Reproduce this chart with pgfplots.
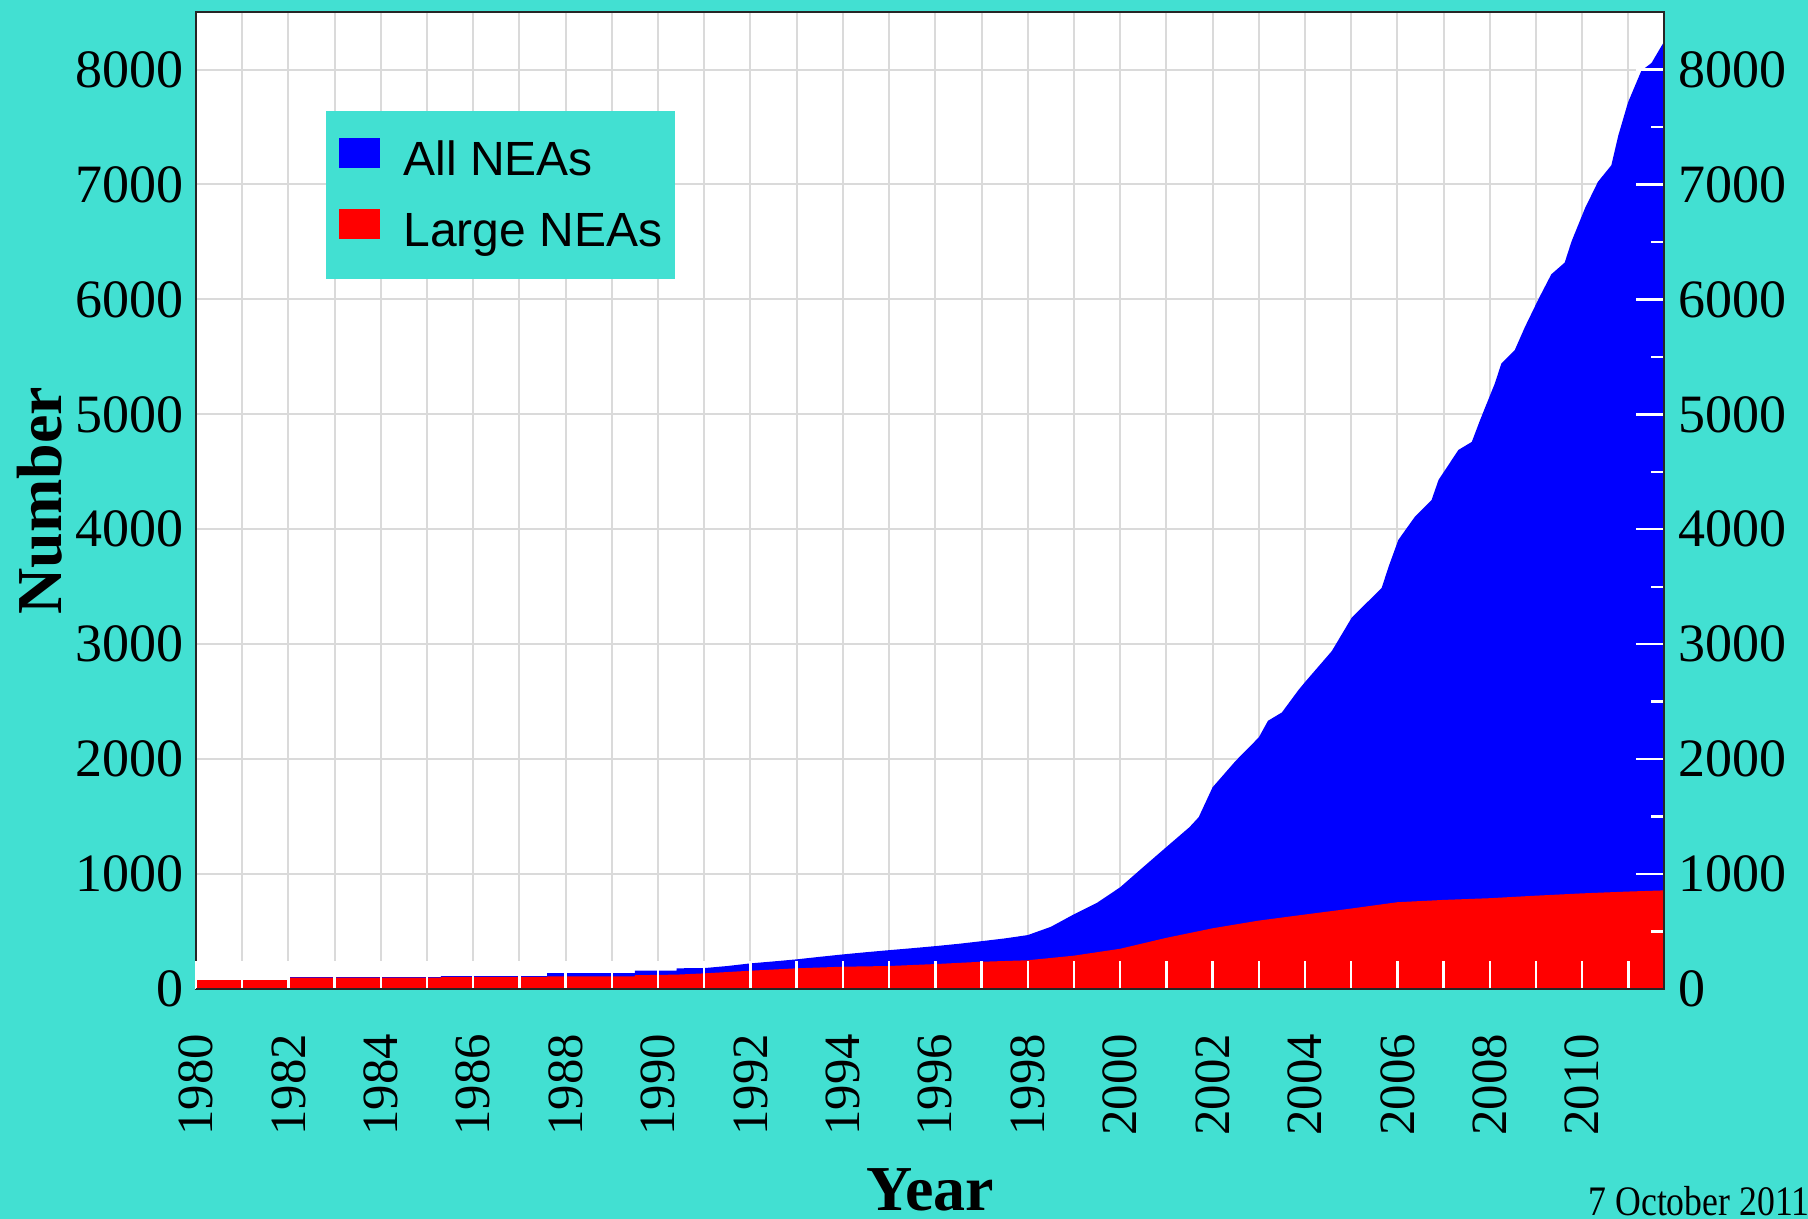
\documentclass[border=0pt]{standalone}
\usepackage{fontspec}
\setmainfont{Liberation Serif}
\newfontfamily\arialfont{Liberation Sans}
\usepackage{pgfplots}
\pgfplotsset{compat=1.18}
\definecolor{turq}{RGB}{66,224,210}
\definecolor{gridgray}{RGB}{218,218,218}

\begin{document}
\begin{tikzpicture}
\fill[turq] (-49pt,-57.5pt) rectangle (403pt,247.25pt);

% data, grid, labels and legend
\begin{axis}[
  at={(0,0)}, anchor=south west,
  scale only axis, width=367pt, height=244.25pt,
  xmin=1980, xmax=2011.77, ymin=0, ymax=8500,
  axis background/.style={fill=white},
  axis line style={black!85, line width=0.7pt},
  xtick={1980,1981,...,2011},
  xticklabels={1980,,1982,,1984,,1986,,1988,,1990,,1992,,1994,,1996,,1998,,2000,,2002,,2004,,2006,,2008,,2010,},
  ytick={0,1000,...,8000},
  yticklabels={0,1000,2000,3000,4000,5000,6000,7000,8000},
  xmajorgrids, ymajorgrids,
  major grid style={gridgray, line width=0.5pt},
  xtick pos=bottom, ytick pos=left,
  tick style={draw=none},
  major tick length=0pt, minor tick length=0pt,
  xticklabel style={rotate=90, anchor=east, inner sep=0pt, font=\fontsize{12.7}{15}\selectfont},
  xticklabel shift=11pt,
  yticklabel style={inner sep=0pt, xshift=-3pt, font=\fontsize{13.5}{16}\selectfont},
  xlabel={Year},
  xlabel style={at={(axis description cs:0.5,-0.2272)}, anchor=base, font=\bfseries\fontsize{16}{19}\selectfont},
  ylabel={Number},
  ylabel style={at={(axis description cs:-0.1063,0.5)}, anchor=center, font=\bfseries\fontsize{16}{19}\selectfont},
  legend style={at={(axis description cs:0.0879,0.8997)}, anchor=north west, fill=turq, draw=none,
    font=\arialfont\fontsize{12}{14}\selectfont, inner xsep=3.3pt, inner ysep=6.7pt, row sep=6.8pt,
    nodes={inner xsep=0pt, inner ysep=0pt, text depth=1.5pt, text height=8.6pt},
    /tikz/every odd column/.append style={column sep=5.9pt}},
  legend cell align=left,
  legend image code/.code={\fill[#1] (0pt,-1.6pt) rectangle (10.2pt,5.9pt);},
]

\addplot[draw=none, fill=blue] coordinates {
(1980.00,78) (1982.00,78) (1982.00,103) (1985.30,103) (1985.30,112)
(1987.60,112) (1987.60,139) (1989.50,139) (1989.50,159) (1990.40,159)
(1990.40,180) (1991.00,182) (1991.50,200) (1992.00,223) (1992.50,240)
(1993.00,258) (1993.50,280) (1994.00,301) (1994.50,320) (1995.00,338)
(1995.50,355) (1996.00,373) (1996.50,393) (1997.00,416) (1997.50,440)
(1998.00,469) (1998.50,541) (1999.00,650) (1999.50,750) (2000.00,885)
(2000.50,1061) (2001.00,1235) (2001.50,1408) (2001.70,1495) (2002.00,1755)
(2002.50,1985) (2003.00,2189) (2003.20,2334) (2003.50,2406) (2003.86,2602)
(2004.00,2670) (2004.58,2940) (2005.01,3230) (2005.66,3490) (2005.81,3675)
(2006.02,3907) (2006.38,4110) (2006.74,4255) (2006.89,4429) (2007.32,4690)
(2007.61,4760) (2007.79,4951) (2008.11,5270) (2008.25,5443) (2008.54,5559)
(2008.76,5760) (2009.05,6000) (2009.33,6218) (2009.62,6320) (2009.77,6506)
(2010.06,6793) (2010.34,7023) (2010.63,7167) (2010.78,7425) (2010.99,7713)
(2011.28,7990) (2011.50,8057) (2011.71,8201) (2011.77,8240)
} \closedcycle;
\addlegendentry{All NEAs}

\addplot[draw=none, fill=red] coordinates {
(1980.00,78) (1982.00,78) (1982.00,98) (1985.30,98) (1985.30,105)
(1987.60,105) (1987.60,110) (1989.50,110) (1989.50,120) (1990.40,125)
(1991.00,136) (1992.00,159) (1993.00,180) (1994.00,194) (1995.00,200)
(1996.00,217) (1997.00,237) (1998.00,250) (1999.00,290) (2000.00,350)
(2001.00,445) (2002.00,528) (2003.00,595) (2004.00,648) (2005.00,700)
(2006.00,755) (2007.00,775) (2008.00,790) (2009.00,812) (2010.00,832)
(2011.00,848) (2011.77,858)
} \closedcycle;
\addlegendentry{Large NEAs}

\end{axis}

% white ticks on top of the fills, bottom/right frame and right-hand labels
\begin{axis}[
  at={(0,0)}, anchor=south west,
  scale only axis, width=367pt, height=244.25pt,
  xmin=1980, xmax=2011.77, ymin=0, ymax=8500,
  axis x line*=bottom, axis y line*=right,
  xtick pos=bottom, ytick pos=right,
  axis line style={black!85, line width=0.7pt, -},
  xtick={1980,1981,...,2011}, xticklabels={},
  ytick={0,1000,...,8000},
  yticklabels={0,1000,2000,3000,4000,5000,6000,7000,8000},
  minor ytick={500,1500,...,7500},
  tick style={white, line width=0.6pt},
  major tick length=7pt, minor tick length=3.3pt,
  tick align=inside,
  yticklabel style={inner sep=0pt, xshift=3.5pt, font=\fontsize{13.5}{16}\selectfont},
]
\addplot[draw=none] coordinates {(1980,0)};
\end{axis}

\node[anchor=base west, inner sep=0pt, xscale=0.85, transform shape, font=\fontsize{10.5}{12}\selectfont]
  at (348pt,-56.5pt) {7 October 2011};
\pgfresetboundingbox
\path[use as bounding box] (-49pt,-57.5pt) rectangle (403pt,247.25pt);
\end{tikzpicture}
\end{document}
